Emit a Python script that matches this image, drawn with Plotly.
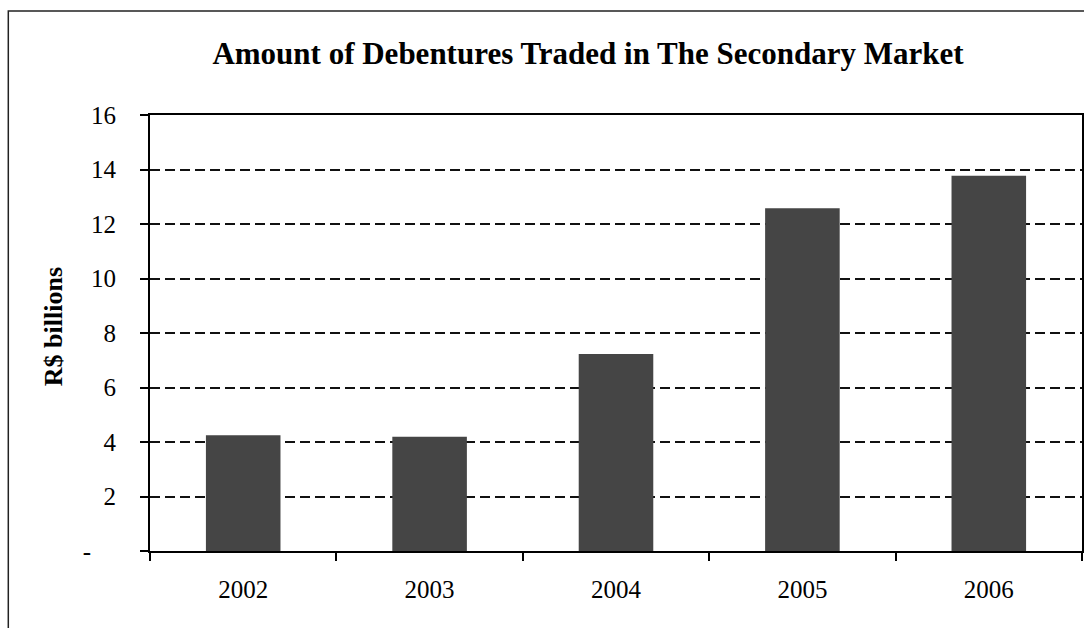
import plotly.graph_objects as go

# Data
years = ["2002", "2003", "2004", "2005", "2006"]
traded = [4.25, 4.19, 7.23, 12.58, 13.77]
tick_vals = [0, 2, 4, 6, 8, 10, 12, 14, 16]
tick_text = ["-\u00a0\u00a0\u00a0\u00a0", "2", "4", "6", "8", "10", "12", "14", "16"]

W, H = 1086, 628
L, R, T, B = 150, 2, 115, 77
pw, ph = W - L - R, H - T - B

def px_x(x):
    return (x - L) / pw

def px_y(y):
    return (H - B - y) / ph

fig = go.Figure()
fig.add_trace(go.Bar(
    x=years, y=traded,
    marker=dict(color="#454545", line=dict(width=0)),
    hoverinfo="x+y",
))

serif = "Liberation Serif"

fig.update_layout(
    width=W, height=H,
    margin=dict(l=L, r=R, t=T, b=B),
    paper_bgcolor="white", plot_bgcolor="white",
    bargap=0.6,
    showlegend=False,
    font=dict(family=serif, color="black"),
    title=dict(
        text="<b>Amount of Debentures Traded in The Secondary Market</b>",
        font=dict(family=serif, size=31, color="black"),
        x=588 / W, xanchor="center", xref="container",
        y=1 - 53 / H, yanchor="middle", yref="container",
    ),
    xaxis=dict(
        type="category",
        showline=True, linecolor="black", linewidth=2, mirror=True,
        ticks="outside", ticklen=8, tickwidth=1.5, tickcolor="black",
        tickson="boundaries",
        showgrid=False,
        tickfont=dict(family=serif, size=25, color="black"),
        ticklabelstandoff=15,
    ),
    yaxis=dict(
        range=[0, 16],
        tickvals=tick_vals, ticktext=tick_text,
        showline=True, linecolor="black", linewidth=2, mirror=True,
        ticks="outside", ticklen=8, tickwidth=1.5, tickcolor="black",
        showgrid=True, gridcolor="#111111", gridwidth=1.5, griddash="10px,5px",
        zeroline=False,
        tickfont=dict(family=serif, size=25, color="black"),
        ticklabelstandoff=19,
    ),
    annotations=[dict(
        text="<b>R$ billions</b>",
        x=px_x(53), y=px_y(327), xref="paper", yref="paper",
        textangle=-90, showarrow=False,
        xanchor="center", yanchor="middle",
        font=dict(family=serif, size=26, color="black"),
    )],
    shapes=[dict(
        type="path", xref="paper", yref="paper",
        path=f"M {px_x(8)} {px_y(628)} L {px_x(8)} {px_y(11)} L {px_x(1086)} {px_y(11)}",
        line=dict(color="#222222", width=1.5),
    )],
)

fig.write_html("out.html")
